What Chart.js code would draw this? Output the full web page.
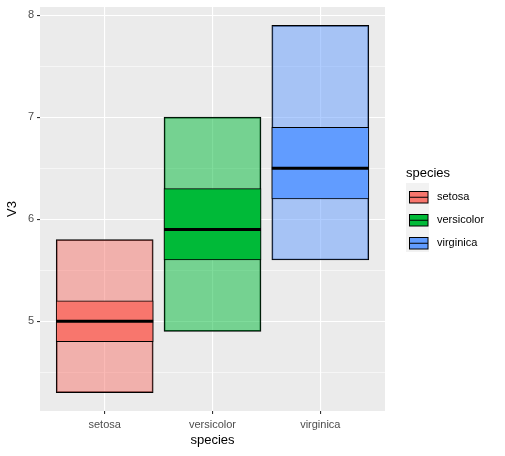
<!DOCTYPE html>
<html>
<head>
<meta charset="utf-8">
<script src="https://cdn.jsdelivr.net/npm/chart.js@4/dist/chart.umd.min.js"></script>
<style>
html,body{margin:0;padding:0;background:#fff;}
#wrap{width:505px;height:456px;position:relative;}
</style>
</head>
<body>
<div id="wrap"><canvas id="c" width="505" height="456"></canvas></div>
<script>
// ---- data ----
const species = ['setosa', 'versicolor', 'virginica'];
const ymin   = [4.3, 4.9, 5.6];
const lower  = [4.8, 5.6, 6.2];
const middle = [5.0, 5.9, 6.5];
const upper  = [5.2, 6.3, 6.9];
const ymax   = [5.8, 7.0, 7.9];
const yTickLabels = [5, 6, 7, 8];

const colors = ['#F8766D', '#00BA38', '#619CFF'];
const colorsA = ['rgba(248,118,109,0.5)', 'rgba(0,186,56,0.5)', 'rgba(97,156,255,0.5)'];
const FONT = '"Liberation Sans", Arial, Helvetica, sans-serif';

const bgPlugin = {
  id: 'panelBg',
  beforeDraw(chart) {
    const {ctx, chartArea: a} = chart;
    ctx.save();
    ctx.fillStyle = '#EBEBEB';
    ctx.fillRect(a.left, a.top, a.right - a.left, a.bottom - a.top);
    ctx.restore();
  }
};

const legendPlugin = {
  id: 'ggLegend',
  afterDraw(chart) {
    const ctx = chart.ctx;
    ctx.save();
    ctx.fillStyle = '#000';
    ctx.font = '13px ' + FONT;
    ctx.textBaseline = 'middle';
    ctx.textAlign = 'left';
    ctx.fillText('species', 406, 173);
    const x0 = 406, y0 = 183, key = 23;
    ctx.fillStyle = '#F2F2F2';
    ctx.fillRect(x0, y0, key, key * species.length);
    species.forEach((s, i) => {
      const ky = y0 + i * key;
      const rx = x0 + 3.5, ry = ky + 8.5, rw = 18.5, rh = 11.5;
      ctx.fillStyle = colors[i];
      ctx.fillRect(rx, ry, rw, rh);
      ctx.strokeStyle = '#000';
      ctx.lineWidth = 1;
      ctx.strokeRect(rx, ry, rw, rh);
      ctx.beginPath();
      ctx.moveTo(rx, ry + rh / 2);
      ctx.lineTo(rx + rw, ry + rh / 2);
      ctx.stroke();
      ctx.fillStyle = '#000';
      ctx.font = '11px ' + FONT;
      ctx.fillText(s, 437, ry + rh / 2);
    });
    ctx.restore();
  }
};

const xs = [1, 2, 3];
new Chart(document.getElementById('c'), {
  type: 'bar',
  data: {
    datasets: [
      {
        label: 'range',
        data: xs.map((x, i) => ({x: x, y: [ymin[i], ymax[i]]})),
        backgroundColor: colorsA,
        borderColor: '#000',
        borderWidth: 1,
        borderSkipped: false,
        barThickness: 97,
        grouped: false,
        order: 3
      },
      {
        label: 'iqr',
        data: xs.map((x, i) => ({x: x, y: [lower[i], upper[i]]})),
        backgroundColor: colors,
        borderColor: '#000',
        borderWidth: 1,
        borderSkipped: false,
        barThickness: 97,
        grouped: false,
        order: 2
      },
      {
        type: 'scatter',
        label: 'median',
        data: xs.map((x, i) => ({x: x, y: middle[i]})),
        pointStyle: 'line',
        radius: 48.5,
        hoverRadius: 48.5,
        borderColor: '#000',
        borderWidth: 3,
        order: 1
      }
    ]
  },
  options: {
    responsive: false,
    animation: false,
    events: [],
    layout: {autoPadding: false, padding: {top: 7, right: 120, left: 0, bottom: 0}},
    plugins: {legend: {display: false}, tooltip: {enabled: false}},
    scales: {
      x: {
        type: 'linear',
        min: 0.4, max: 3.6,
        offset: false,
        afterBuildTicks: s => { s.ticks = xs.map(v => ({value: v})); },
        afterFit: s => { s.height = 45; s.paddingLeft = 0; s.paddingRight = 0; },
        border: {display: false},
        grid: {offset: false, color: '#FFFFFF', lineWidth: 1.1, tickColor: '#333333', tickLength: 3, tickWidth: 1.1},
        ticks: {
          color: '#4D4D4D', font: {family: FONT, size: 11}, padding: 4, maxRotation: 0,
          callback: v => species[v - 1]
        },
        title: {display: true, text: 'species', color: '#000', font: {family: FONT, size: 13}, padding: {top: 2, bottom: 8}}
      },
      y: {
        type: 'linear',
        min: 4.12, max: 8.08,
        afterFit: s => { s.width = 40; s.paddingTop = 0; s.paddingBottom = 0; },
        border: {display: false},
        grid: {
          color: '#FFFFFF',
          lineWidth: c => Number.isInteger(c.tick.value) ? 1.1 : 0.55,
          tickColor: c => Number.isInteger(c.tick.value) ? '#333333' : 'rgba(0,0,0,0)',
          tickLength: 3, tickWidth: 1.1
        },
        ticks: {
          stepSize: 0.5, includeBounds: false, autoSkip: false,
          color: '#4D4D4D', font: {family: FONT, size: 11}, padding: 3,
          callback: v => yTickLabels.includes(v) ? String(v) : ''
        },
        title: {display: true, text: 'V3', color: '#000', font: {family: FONT, size: 13}, padding: {top: 5, bottom: 2}}
      }
    }
  },
  plugins: [bgPlugin, legendPlugin]
});
</script>
</body>
</html>
